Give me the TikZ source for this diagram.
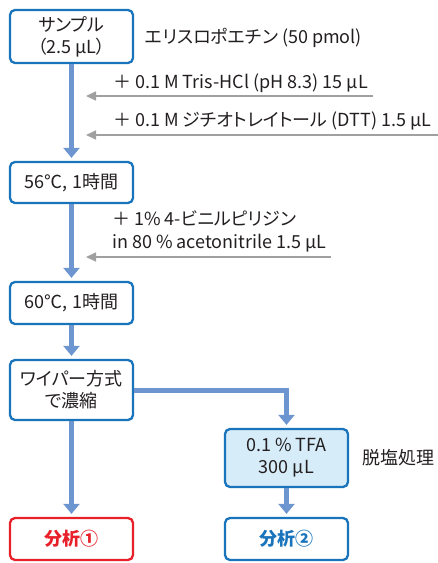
\documentclass[tikz,border=0pt]{standalone}
\usepackage{fontspec}
\setmainfont{Noto Sans CJK JP}[RawFeature=+palt]
\usetikzlibrary{arrows.meta}
\definecolor{boxblue}{RGB}{26, 116, 187}
\definecolor{flowblue}{RGB}{109, 149, 208}
\definecolor{feedgray}{RGB}{160, 160, 160}
\definecolor{inkgray}{RGB}{35, 31, 32}
\definecolor{alarmred}{RGB}{232, 32, 42}
\definecolor{paleblue}{RGB}{214, 236, 249}

\tikzset{
  stepbox/.style  = {draw=boxblue, line width=2.3pt, rounded corners=5pt, fill=white, text=inkgray,
                     minimum width=123pt, inner sep=0pt, align=center, font=\fontsize{18}{22}\selectfont},
  note/.style     = {anchor=west, text=inkgray, inner sep=0pt, align=left, font=\fontsize{18}{23}\selectfont},
  flow/.style     = {draw=flowblue, line width=5pt, -{Triangle[width=16pt,length=10pt]}, shorten >=3pt},
  feed/.style     = {draw=feedgray, line width=1.6pt, -{Triangle[width=9pt,length=10pt]}}
}

\begin{document}
\begin{tikzpicture}[x=1pt, y=-1pt]
            \useasboundingbox (0,0) rectangle (438,563);
            \node[stepbox, minimum height=53pt]                  (sample)  at ( 71.5,  36.5) {サンプル\\（2.5 µL）};
            \node[stepbox, minimum height=41pt]                  (heatA)   at ( 71.5, 182.5) {56℃, 1時間};
            \node[stepbox, minimum height=42pt]                  (heatB)   at ( 71.5, 303.0) {60℃, 1時間};
            \node[stepbox, minimum height=60pt]                  (wiper)   at ( 71.5, 390.0) {ワイパー方式\\で濃縮};
            \node[stepbox, minimum height=58pt, fill=paleblue]   (tfa)     at (286.5, 458.0) {0.1 \% TFA\\300 µL};
            \node[stepbox, minimum height=42pt, draw=alarmred, text=alarmred, font=\fontsize{18}{22}\selectfont\bfseries]
                                                                 (assayA)  at ( 71.5, 539.0) {分析①};
            \node[stepbox, minimum height=42pt, text=boxblue, font=\fontsize{18}{22}\selectfont\bfseries]
                                                                 (assayB)  at (286.5, 539.0) {分析②};

            \node[note]                                          (epo)     at (145.0,  38.0) {エリスロポエチン (50 pmol)};
            \node[note]                                          (tris)    at (113.0,  83.0) {＋ 0.1 M Tris-HCl (pH 8.3) 15 µL};
            \node[note]                                          (dtt)     at (113.0, 121.0) {＋ 0.1 M ジチオトレイトール (DTT) 1.5 µL};
            \node[note]                                          (vinyl)   at (112.0, 231.0) {＋ 1\% 4-ビニルピリジン\\in 80 \% acetonitrile 1.5 µL};
            \node[note]                                          (desalt)  at (362.0, 458.0) {脱塩処理};

            \coordinate (trisIn)  at (373,  96);  \coordinate (trisOut)  at ( 86,  96);
            \coordinate (dttIn)   at (438, 135);  \coordinate (dttOut)   at ( 86, 135);
            \coordinate (vinylIn) at (331, 257);  \coordinate (vinylOut) at ( 86, 257);

            \draw[flow] (sample) -- (heatA);
            \draw[flow] (heatA)  -- (heatB);
            \draw[flow] (heatB)  -- (wiper);
            \draw[flow] (wiper)  -- (assayA);
            \draw[flow] (wiper.east) -| (tfa.north);
            \draw[flow] (tfa)    -- (assayB);

            \draw[feed] (trisIn)  -- (trisOut);
            \draw[feed] (dttIn)   -- (dttOut);
            \draw[feed] (vinylIn) -- (vinylOut);
        \end{tikzpicture}
\end{document}
